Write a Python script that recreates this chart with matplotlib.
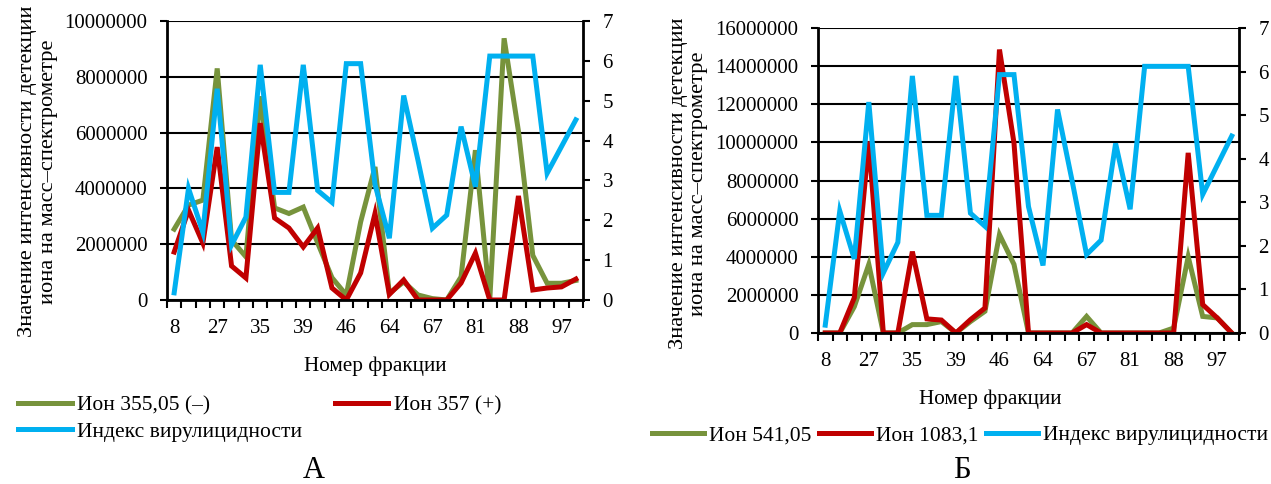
import numpy as np
import matplotlib
matplotlib.use("Agg")
import matplotlib.pyplot as plt
from matplotlib.ticker import FuncFormatter

plt.rcParams['font.family'] = ['Liberation Serif', 'DejaVu Serif']
plt.rcParams['font.size'] = 15

# номера фракций (подписаны только каждые третьи)
fractions = ['8', '12', '20', '27', '30', '33', '35', '37', '38', '39', '41', '44', '46', '50', '55',
             '64', '65', '66', '67', '70', '76', '81', '84', '86', '88', '90', '93', '97', '99']

# индекс вирулицидности (одинаковый для обеих панелей)
virulicidity = [0.18, 2.8, 1.7, 5.3, 1.38, 2.08, 5.9, 2.7, 2.7, 5.9, 2.75, 2.45, 5.93, 5.93, 2.9,
                1.55, 5.13, 3.5, 1.8, 2.13, 4.35, 2.84, 6.12, 6.12, 6.12, 6.12, 3.18, 3.85, 4.52]

# панель А
ion_355 = [2540000, 3400000, 3580000, 8300000, 2150000, 1550000, 7300000, 3300000, 3100000, 3330000,
           2050000, 800000, 180000, 2800000, 4770000, 240000, 650000, 180000, 50000, 0,
           830000, 5370000, 0, 9380000, 6050000, 1600000, 600000, 600000, 700000]
ion_357 = [1720000, 3220000, 2040000, 5480000, 1220000, 790000, 6340000, 2940000, 2580000, 1900000,
           2580000, 430000, 0, 970000, 3100000, 200000, 720000, 0, 0, 0,
           610000, 1680000, 0, 0, 3730000, 360000, 430000, 470000, 750000]

# панель Б
ion_541 = [0, 0, 1380000, 3600000, 0, 0, 440000, 440000, 600000, 0,
           600000, 1140000, 5160000, 3600000, 0, 0, 0, 0, 870000, 0,
           0, 0, 0, 0, 260000, 4000000, 870000, 790000, 0]
ion_1083 = [0, 0, 1850000, 10050000, 0, 0, 4270000, 740000, 680000, 0,
            700000, 1310000, 14870000, 9970000, 0, 0, 0, 0, 440000, 0,
            0, 0, 0, 0, 0, 9450000, 1490000, 790000, 0]

green = '#77933C'
red = '#C00000'
blue = '#00B0F0'
ylab = 'Значение интенсивности детекции\nиона на масс–спектрометре'

fig = plt.figure(figsize=(12.71, 4.84), dpi=100)


def panel(rect, s1, s2, l1, l2, ymax, ystep):
    ax = fig.add_axes(rect)
    x = np.arange(len(fractions))
    ax.plot(x, s1, color=green, lw=3.6, label=l1, solid_joinstyle='miter')
    ax.plot(x, s2, color=red, lw=3.6, label=l2, solid_joinstyle='miter')
    ax.set_xlim(-0.5, len(fractions) - 0.5)
    ax.set_ylim(0, ymax)
    ax.set_yticks(np.arange(0, ymax + 1, ystep))
    ax.yaxis.set_major_formatter(FuncFormatter(lambda v, p: '%d' % v))
    ax.grid(axis='y', color='black', lw=1.5)
    ax.set_axisbelow(True)
    # деления по границам категорий, подписи каждые три категории
    ax.set_xticks(np.arange(-0.5, len(fractions), 1.0))
    ax.set_xticklabels([])
    ax.set_xticks(x[::3], minor=True)
    ax.set_xticklabels(fractions[::3], minor=True)
    ax.tick_params(axis='x', which='major', length=6, width=1.5, direction='out')
    ax.tick_params(axis='x', which='minor', length=0, pad=14)
    ax.tick_params(axis='y', length=5, width=1.5, pad=9)
    for s in ['left', 'bottom']:
        ax.spines[s].set_linewidth(2)
    ax.spines['top'].set_visible(False)
    ax.spines['right'].set_visible(False)
    ax.set_ylabel(ylab, labelpad=5, fontsize=16.2, linespacing=1.1)
    ax.set_xlabel('Номер фракции', labelpad=13, fontsize=15.3)

    ax2 = ax.twinx()
    ax2.plot(x, virulicidity, color=blue, lw=3.6, label='Индекс вирулицидности',
             solid_joinstyle='miter')
    ax2.set_ylim(0, 7)
    ax2.set_yticks(range(8))
    ax2.tick_params(axis='y', length=5, width=1.5, pad=9)
    ax2.spines['right'].set_linewidth(2)
    ax2.spines['top'].set_visible(False)
    ax2.spines['left'].set_visible(False)
    ax2.spines['bottom'].set_visible(False)
    return ax, ax2


axA, axA2 = panel([167 / 1271, 184 / 484, 416 / 1271, 279 / 484],
                  ion_355, ion_357, 'Ион 355,05 (–)', 'Ион 357 (+)', 10000000, 2000000)
axB, axB2 = panel([818 / 1271, 151 / 484, 421 / 1271, 305 / 484],
                  ion_541, ion_1083, 'Ион 541,05', 'Ион 1083,1', 16000000, 2000000)
axA.yaxis.label.set_y(0.46)
axB.yaxis.label.set_y(0.49)
axB.xaxis.label.set_x(0.41)

hA = axA.get_lines() + axA2.get_lines()
fig.legend([hA[0], hA[2], hA[1]], [h.get_label() for h in (hA[0], hA[2], hA[1])],
           loc='upper left', bbox_to_anchor=(18 / 1271, 1 - 395 / 484), ncol=2,
           frameon=False, borderpad=0, borderaxespad=0, handlelength=2.5,
           handletextpad=0.25, columnspacing=1.5, labelspacing=0.3, fontsize=15.5)

hB = axB.get_lines() + axB2.get_lines()
fig.legend(hB, [h.get_label() for h in hB],
           loc='upper left', bbox_to_anchor=(652 / 1271, 1 - 425 / 484), ncol=3,
           frameon=False, borderpad=0, borderaxespad=0, handlelength=2.4,
           handletextpad=0.25, columnspacing=0.35, fontsize=15.5)

fig.text(314 / 1271, 1 - 471 / 484, 'А', fontsize=22, ha='center', va='center')
fig.text(962 / 1271, 1 - 471 / 484, 'Б', fontsize=22, ha='center', va='center')

fig.savefig('out.png', dpi=100)
